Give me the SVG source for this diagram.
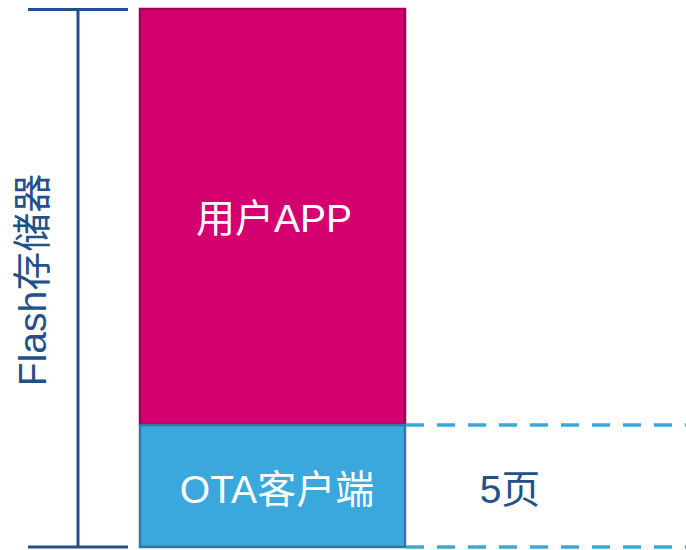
<svg xmlns="http://www.w3.org/2000/svg" width="686" height="550" viewBox="0 0 686 550">
<style>
.lbl{font-family:"Liberation Sans","Noto Sans CJK SC",sans-serif;font-size:39px}
.w{fill:#ffffff}
.d{fill:#24508a}
.scale{stroke:#24508a;stroke-width:3;fill:none}
.dash{stroke:#3aa8dc;stroke-width:3.5;stroke-dasharray:18 13;fill:none}
</style>
<rect width="686" height="550" fill="#ffffff"/>
<g id="scale">
<line class="scale" x1="28" y1="9.5" x2="128" y2="9.5"/>
<line class="scale" x1="78" y1="9.5" x2="78" y2="547"/>
<line class="scale" x1="28" y1="547" x2="128" y2="547"/>
<text class="lbl d" transform="translate(46,280) rotate(-90)" text-anchor="middle">Flash存储器</text>
</g>
<g id="app">
<rect x="140" y="9" width="265" height="415" fill="#d4006f" stroke="#a3005a" stroke-width="2.5"/>
<text class="lbl w" x="274" y="232" text-anchor="middle">用户APP</text>
</g>
<g id="ota">
<rect x="140" y="425" width="265" height="122" fill="#3aa8dc" stroke="#2b7ca3" stroke-width="2.5"/>
<text class="lbl w" x="277" y="503" text-anchor="middle">OTA客户端</text>
</g>
<g id="connectors">
<line class="dash" x1="406" y1="425" x2="686" y2="425"/>
<line class="dash" x1="406" y1="547" x2="686" y2="547"/>
</g>
<g id="pages">
<text class="lbl d" x="510" y="503" text-anchor="middle">5页</text>
</g>
</svg>
